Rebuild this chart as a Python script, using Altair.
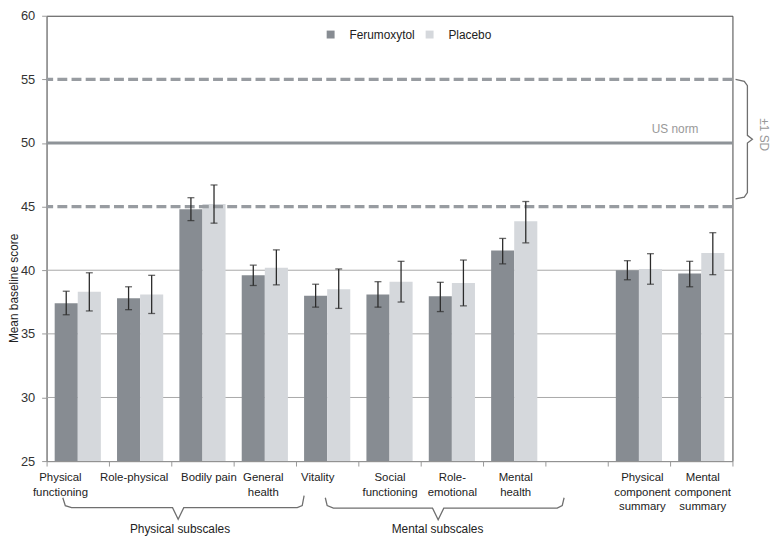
import json
import altair as alt
import pandas as pd

# ---------------- data ----------------
categories = ["Physical\nfunctioning", "Role-physical", "Bodily pain", "General\nhealth",
              "Vitality", "Social\nfunctioning", "Role-\nemotional", "Mental\nhealth", " ",
              "Physical\ncomponent\nsummary", "Mental\ncomponent\nsummary"]
bar_categories = [c for c in categories if c != " "]
groups = ["Ferumoxytol", "Placebo"]

fer_mean = [37.4, 37.8, 44.8, 39.6, 38.0, 38.1, 37.95, 41.55, 40.0, 39.75]
fer_lo   = [36.5, 36.9, 43.9, 38.8, 37.1, 37.1, 36.75, 40.5, 39.25, 38.7]
fer_hi   = [38.35, 38.7, 45.7, 40.4, 38.9, 39.1, 39.05, 42.5, 40.75, 40.7]
pla_mean = [38.3, 38.1, 45.2, 40.2, 38.5, 39.1, 39.0, 43.85, 40.1, 41.35]
pla_lo   = [36.8, 36.6, 43.7, 38.85, 37.0, 37.5, 37.2, 42.15, 38.9, 39.65]
pla_hi   = [39.8, 39.6, 46.7, 41.6, 40.1, 40.7, 40.8, 45.4, 41.3, 42.95]

us_norm = 50
sd_lines = [45, 55]
grid_values = [30, 35, 40]

# bottom brackets (x in category units, y in score units)
phys_x = [0.26, 0.30, 0.40, 2.02, 2.11, 2.20, 4.02, 4.10, 4.13]
phys_y = [22.12, 21.5, 21.34, 21.34, 20.43, 21.34, 21.34, 21.5, 22.28]
ment_x = [4.47, 4.50, 4.60, 6.19, 6.28, 6.37, 8.19, 8.27, 8.30]
ment_y = [22.12, 21.5, 21.3, 21.3, 20.38, 21.3, 21.3, 21.5, 22.12]
sd_bx = [11.05, 11.19, 11.24, 11.24, 11.32, 11.24, 11.24, 11.19, 11.05]
sd_by = [55.0, 54.85, 54.5, 50.6, 50.3, 50.0, 46.1, 45.75, 45.6]

text_labels = ["Physical subscales", "Mental subscales", "US norm"]
text_x = [2.14, 6.27, 10.08]
text_y = [19.66, 19.66, 51.1]

# ---------------- style ----------------
# small horizontal nudges of individual tick labels (pixels), as in the original
label_dx = {"Physical\nfunctioning": -18, "Role-physical": -6.5, "Bodily pain": 6,
            "General\nhealth": -2, "Vitality": -10, "Mental\nhealth": 1,
            "Physical\ncomponent\nsummary": 3, "Mental\ncomponent\nsummary": 1}
label_offset = {
    "condition": [{"test": f"datum.value === {json.dumps(k)}", "value": v}
                  for k, v in label_dx.items()],
    "value": 0,
}

# ---------------- tables ----------------
rows = []
for i, c in enumerate(bar_categories):
    rows.append(dict(category=c, group="Ferumoxytol", mean=fer_mean[i], lo=fer_lo[i], hi=fer_hi[i]))
    rows.append(dict(category=c, group="Placebo", mean=pla_mean[i], lo=pla_lo[i], hi=pla_hi[i]))
df = pd.DataFrame(rows)

W, H = 693, 450
FER_C, PLA_C = "#878c92", "#d5d8dc"
LINE_C = "#989ca1"
FONT = "Liberation Sans"

yscale = alt.Scale(domain=[25, 60], nice=False, zero=False)
xscale = alt.Scale(domain=categories, paddingInner=0, paddingOuter=0)
xoff_scale = alt.Scale(domain=groups, paddingOuter=0.35, paddingInner=0)

base = alt.Chart(df)

bars = base.mark_bar().encode(
    x=alt.X("category:N", scale=xscale, sort=categories,
            axis=alt.Axis(title=None, labelAngle=0, tickBand="extent",
                          labelExpr="split(datum.label, '\\n')",
                          labelFontSize=11.5, labelLineHeight=14.5, labelColor="#222",
                          labelPadding=6, tickSize=5, tickColor="#999", domainColor="#999",
                          labelOffset=label_offset, labelFont=FONT)),
    xOffset=alt.XOffset("group:N", scale=xoff_scale),
    y=alt.Y("mean:Q", scale=yscale,
            axis=alt.Axis(title="Mean baseline score", values=[25, 30, 35, 40, 45, 50, 55, 60],
                          grid=False, labelFontSize=13, labelColor="#333", labelPadding=7,
                          tickSize=5, tickColor="#999", domainColor="#999",
                          titleFontSize=12, titleFontWeight="normal", titleColor="#222",
                          titleX=-26, titleY=275, titleAngle=270, titleBaseline="bottom",
                          labelFont=FONT, titleFont=FONT)),
    y2=alt.datum(25),
    color=alt.Color("group:N", scale=alt.Scale(domain=groups, range=[FER_C, PLA_C]),
                    legend=alt.Legend(title=None, orient="none", legendX=281, legendY=13,
                                      direction="horizontal", symbolType="square",
                                      symbolSize=64, symbolStrokeWidth=0, labelFontSize=12,
                                      labelColor="#222", labelOffset=13, columnPadding=8,
                                      padding=0, labelFont=FONT)),
)

grid = alt.Chart(pd.DataFrame({"v": grid_values})).mark_rule(color="#a8a8a8", strokeWidth=1).encode(
    y=alt.Y("v:Q", scale=yscale)
)

sd = alt.Chart(pd.DataFrame({"v": sd_lines})).mark_rule(
    color=LINE_C, strokeWidth=3.3, strokeDash=[10, 4.3]
).encode(y=alt.Y("v:Q", scale=yscale))

norm = alt.Chart(pd.DataFrame({"v": [us_norm]})).mark_rule(
    color="#8e9398", strokeWidth=3
).encode(y=alt.Y("v:Q", scale=yscale))

err = base.mark_rule(color="#2b2b2b", strokeWidth=1.3).encode(
    x=alt.X("category:N", scale=xscale, sort=categories),
    xOffset=alt.XOffset("group:N", scale=xoff_scale),
    y=alt.Y("lo:Q", scale=yscale),
    y2="hi:Q",
)
cap_lo = base.mark_tick(color="#2b2b2b", size=7, thickness=1.3).encode(
    x=alt.X("category:N", scale=xscale, sort=categories),
    xOffset=alt.XOffset("group:N", scale=xoff_scale),
    y=alt.Y("lo:Q", scale=yscale),
)
cap_hi = base.mark_tick(color="#2b2b2b", size=7, thickness=1.3).encode(
    x=alt.X("category:N", scale=xscale, sort=categories),
    xOffset=alt.XOffset("group:N", scale=xoff_scale),
    y=alt.Y("hi:Q", scale=yscale),
)

main = alt.layer(grid, bars, sd, norm, err, cap_lo, cap_hi)

# annotation layer with its own x scale in category units
ux = alt.Scale(domain=[0, 11], nice=False, zero=False)
br_rows = []
for i, (a, b) in enumerate(zip(phys_x, phys_y)):
    br_rows.append(dict(id="phys", o=i, x=a, y=b))
for i, (a, b) in enumerate(zip(ment_x, ment_y)):
    br_rows.append(dict(id="ment", o=i, x=a, y=b))
for i, (a, b) in enumerate(zip(sd_bx, sd_by)):
    br_rows.append(dict(id="sd", o=i, x=a, y=b))
brdf = pd.DataFrame(br_rows)

brackets = alt.Chart(brdf).mark_line(color="#6f6f6f", strokeWidth=1.3, clip=False).encode(
    x=alt.X("x:Q", scale=ux, axis=None),
    y=alt.Y("y:Q", scale=yscale),
    detail="id:N",
    order="o:Q",
)

tdf = pd.DataFrame({"t": text_labels, "x": text_x, "y": text_y,
                    "c": ["#222", "#222", "#999"]})
texts = alt.Chart(tdf).mark_text(fontSize=12, font=FONT, clip=False).encode(
    x=alt.X("x:Q", scale=ux, axis=None),
    y=alt.Y("y:Q", scale=yscale),
    text="t:N",
    color=alt.Color("c:N", scale=None),
)

sd_text = alt.Chart(pd.DataFrame({"t": ["±1 SD"], "x": [11.5], "y": [50.65]})).mark_text(
    fontSize=12, font=FONT, angle=90, color="#999", clip=False
).encode(
    x=alt.X("x:Q", scale=ux, axis=None),
    y=alt.Y("y:Q", scale=yscale),
    text="t:N",
)

annot = alt.layer(brackets, texts, sd_text)

chart = alt.layer(main, annot).resolve_scale(x="independent", color="independent").properties(
    width=W, height=H,
    autosize=alt.AutoSizeParams(type="none"),
    padding={"left": 39, "top": 5, "right": 43, "bottom": 86},
).configure_view(stroke="#444", strokeWidth=1).configure_axis(grid=False)

chart.save("out.html", embed_options={"renderer": "svg", "actions": False})
